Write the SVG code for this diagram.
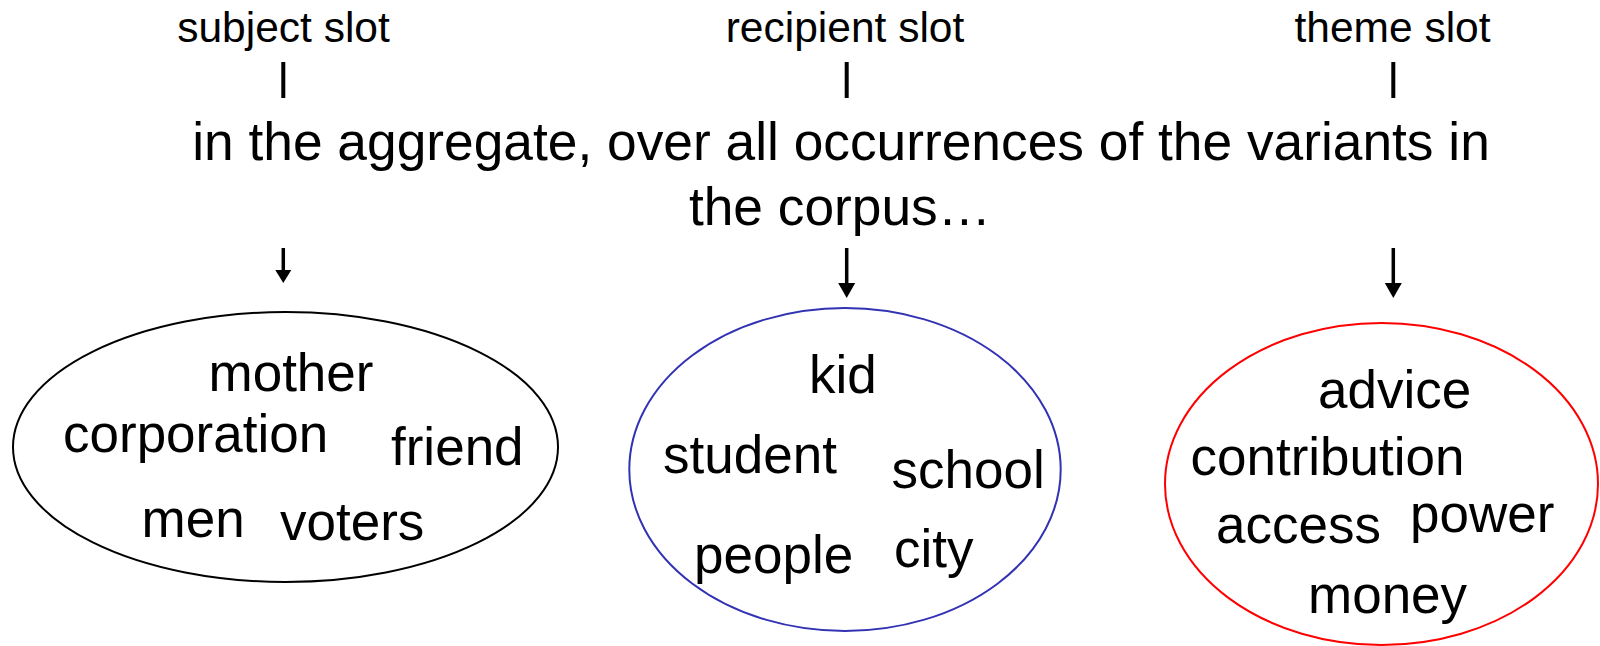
<svg xmlns="http://www.w3.org/2000/svg" width="1600" height="646" viewBox="0 0 1600 646">
<style>
text{font-family:"Liberation Sans",Arial,sans-serif;fill:#000}
.hd{font-size:42.5px;text-anchor:middle}
.mn{font-size:53.3px;text-anchor:middle}
.w{font-size:53px}
.bar{stroke:#000;stroke-width:4}
.shaft{stroke:#000;stroke-width:3.5}
.head{fill:#000}
.ell{fill:none;stroke-width:2}
</style>
<rect width="1600" height="646" fill="#fff"/>
<g id="headers">
<text class="hd" x="283.5" y="42">subject slot</text>
<text class="hd" x="845" y="42">recipient slot</text>
<text class="hd" x="1392.5" y="42">theme slot</text>
</g>
<g id="caption">
<text class="mn" x="841" y="160">in the aggregate, over all occurrences of the variants in</text>
<text class="mn" x="840" y="225">the corpus…</text>
</g>
<g id="connectors">
<line class="bar" x1="283.3" y1="62" x2="283.3" y2="98"/>
<line class="bar" x1="846.7" y1="62" x2="846.7" y2="98"/>
<line class="bar" x1="1393.3" y1="62" x2="1393.3" y2="98"/>
<line class="shaft" x1="283.3" y1="248" x2="283.3" y2="272"/>
<polygon class="head" points="275.3,270 291.3,270 283.3,283"/>
<line class="shaft" x1="846.7" y1="248" x2="846.7" y2="285"/>
<polygon class="head" points="838.2,283 855.2,283 846.7,298"/>
<line class="shaft" x1="1393.3" y1="248" x2="1393.3" y2="285"/>
<polygon class="head" points="1384.8,283 1401.8,283 1393.3,298"/>
</g>
<g id="subject-set">
<ellipse class="ell" cx="285.5" cy="447" rx="272.5" ry="135" stroke="#000"/>
<text class="w" x="208.5" y="391">mother</text>
<text class="w" x="63" y="451.5">corporation</text>
<text class="w" x="391" y="465">friend</text>
<text class="w" x="141.5" y="537">men</text>
<text class="w" x="280" y="540">voters</text>
</g>
<g id="recipient-set">
<ellipse class="ell" cx="845" cy="469.5" rx="215.7" ry="161.5" stroke="#3232B4"/>
<text class="w" x="809" y="393">kid</text>
<text class="w" x="663" y="473">student</text>
<text class="w" x="891.5" y="488">school</text>
<text class="w" x="694" y="573">people</text>
<text class="w" x="894" y="567">city</text>
</g>
<g id="theme-set">
<ellipse class="ell" cx="1381.5" cy="484" rx="216.5" ry="161" stroke="#FF0000"/>
<text class="w" x="1318" y="408">advice</text>
<text class="w" x="1190.5" y="475">contribution</text>
<text class="w" x="1216" y="543">access</text>
<text class="w" x="1410" y="532">power</text>
<text class="w" x="1308" y="613">money</text>
</g>
</svg>
